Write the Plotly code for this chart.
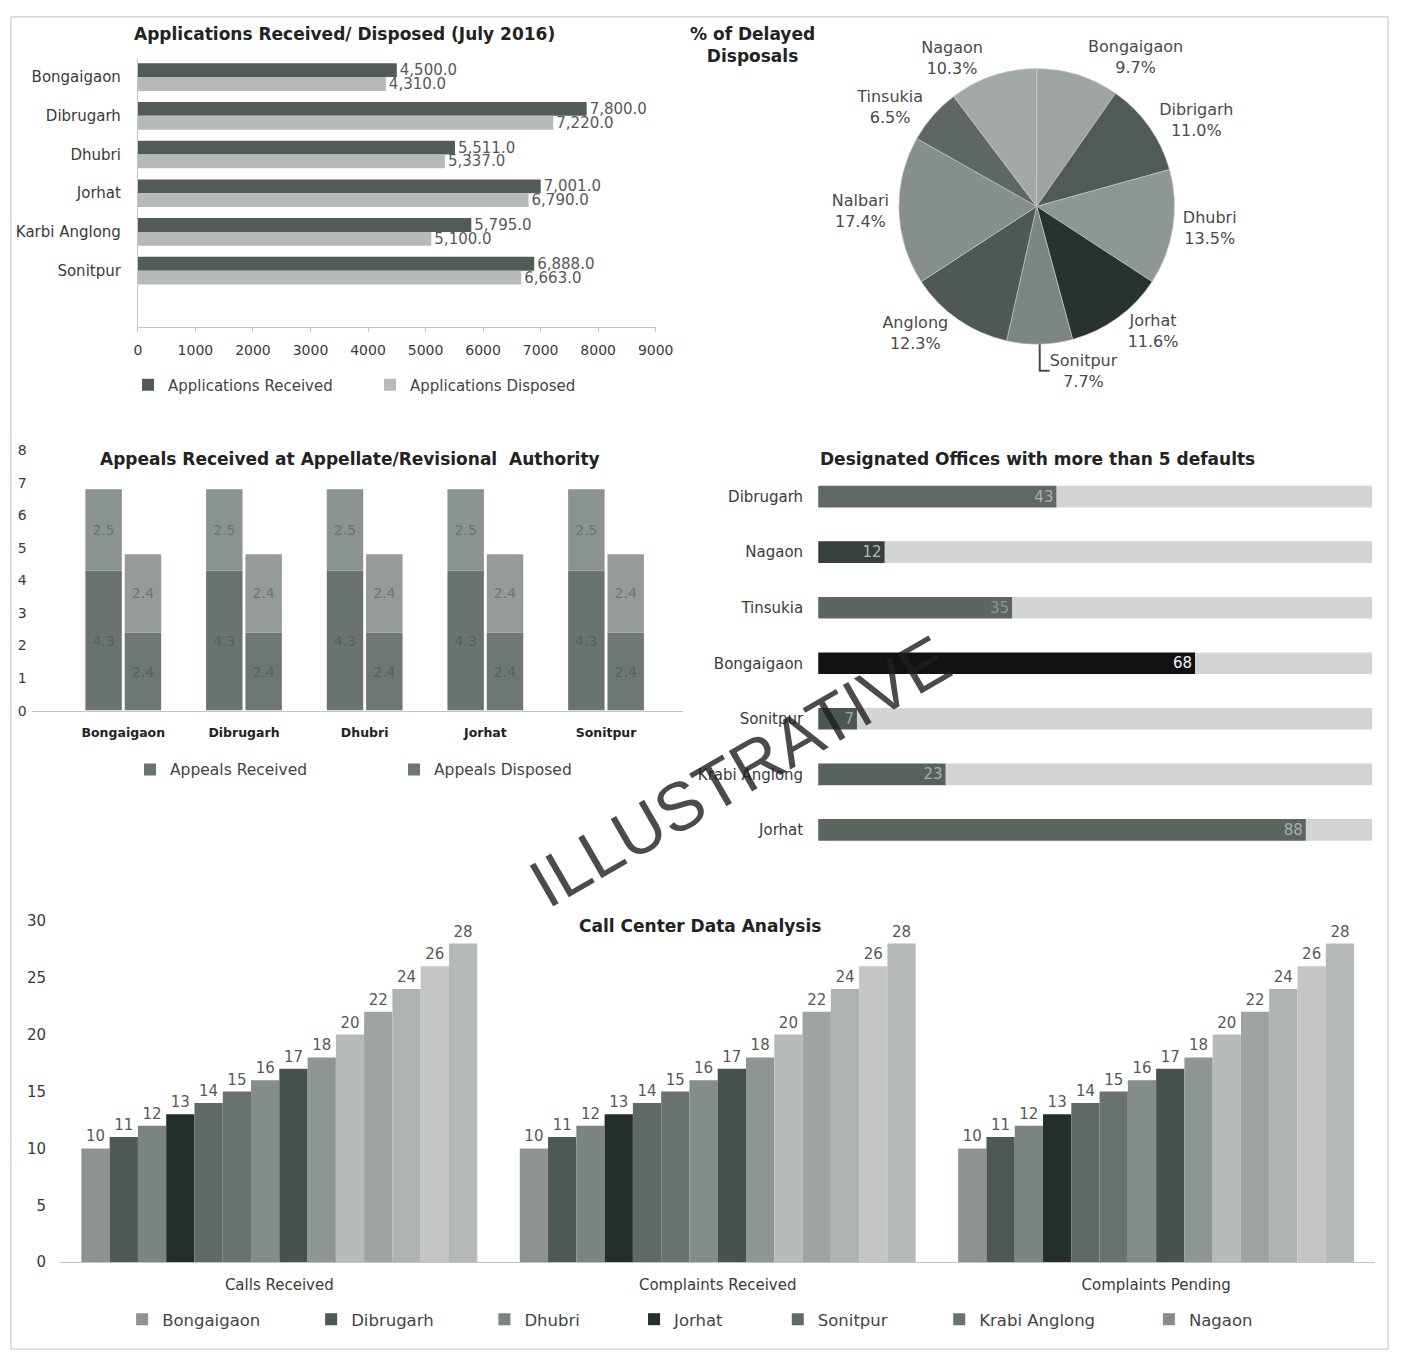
import plotly.graph_objects as go

W, H = 1414, 1364

def px_x(p):
    return p / W

def px_y(p):
    return 1 - p / H

# ---------------- data ----------------
# Panel 1: Applications Received / Disposed
app_districts = ["Bongaigaon", "Dibrugarh", "Dhubri", "Jorhat", "Karbi Anglong", "Sonitpur"]
app_received = [4500, 7800, 5511, 7001, 5795, 6888]
app_disposed = [4310, 7220, 5337, 6790, 5100, 6663]
app_ticks = [0, 1000, 2000, 3000, 4000, 5000, 6000, 7000, 8000, 9000]

# Panel 2: % of delayed disposals
delay_labels = ["Bongaigaon", "Dibrigarh", "Dhubri", "Jorhat", "Sonitpur",
                "Anglong", "Nalbari", "Tinsukia", "Nagaon"]
delay_pct = [9.7, 11.0, 13.5, 11.6, 7.7, 12.3, 17.4, 6.5, 10.3]

# Panel 3: Appeals
appeal_districts = ["Bongaigaon", "Dibrugarh", "Dhubri", "Jorhat", "Sonitpur"]
appeals_received_lower = [4.3, 4.3, 4.3, 4.3, 4.3]
appeals_received_upper = [2.5, 2.5, 2.5, 2.5, 2.5]
appeals_disposed_lower = [2.4, 2.4, 2.4, 2.4, 2.4]
appeals_disposed_upper = [2.4, 2.4, 2.4, 2.4, 2.4]
appeal_ticks = [0, 1, 2, 3, 4, 5, 6, 7, 8]

# Panel 4: Designated offices with more than 5 defaults
office_names = ["Dibrugarh", "Nagaon", "Tinsukia", "Bongaigaon", "Sonitpur", "Krabi Anglong", "Jorhat"]
office_defaults = [43, 12, 35, 68, 7, 23, 88]
OFFICE_SCALE_MAX = 100

# Panel 5: Call center
call_categories = ["Calls Received", "Complaints Received", "Complaints Pending"]
call_series = ["Bongaigaon", "Dibrugarh", "Dhubri", "Jorhat", "Sonitpur", "Krabi Anglong", "Nagaon",
               "Series 8", "Series 9", "Series 10", "Series 11", "Series 12", "Series 13", "Series 14"]
calls_received = [10, 11, 12, 13, 14, 15, 16, 17, 18, 20, 22, 24, 26, 28]
complaints_received = [10, 11, 12, 13, 14, 15, 16, 17, 18, 20, 22, 24, 26, 28]
complaints_pending = [10, 11, 12, 13, 14, 15, 16, 17, 18, 20, 22, 24, 26, 28]
call_ticks = [0, 5, 10, 15, 20, 25, 30]

# ---------------- styles ----------------
FONT = "DejaVu Sans"
TXT = "#3a3a3a"
DATA_TXT = "#555a57"

fig = go.Figure()

# ---- Panel 1 ----
bw1 = 0.357
fig.add_trace(go.Bar(
    y=app_districts, x=app_received, orientation="h", name="Applications Received",
    marker=dict(color="#525c57", line=dict(width=0)), width=bw1, offset=-bw1,
    texttemplate="%{x:,.1f}", textposition="outside", constraintext="none",
    cliponaxis=False, textfont=dict(size=15, color=DATA_TXT, family=FONT),
    xaxis="x", yaxis="y", legend="legend"))
fig.add_trace(go.Bar(
    y=app_districts, x=app_disposed, orientation="h", name="Applications Disposed",
    marker=dict(color="#b6bab8", line=dict(width=0)), width=bw1, offset=0,
    texttemplate="%{x:,.1f}", textposition="outside", constraintext="none",
    cliponaxis=False, textfont=dict(size=15, color=DATA_TXT, family=FONT),
    xaxis="x", yaxis="y", legend="legend"))

# ---- Panel 2: pie ----
pie_colors = ["#9ea4a0", "#505b55", "#8f9792", "#29332e", "#7d8581",
              "#4e5953", "#878f8a", "#5e6762", "#a3a9a5"]
fig.add_trace(go.Pie(
    labels=delay_labels, values=delay_pct, sort=False, direction="clockwise", rotation=0,
    marker=dict(colors=pie_colors, line=dict(color="#c9ccca", width=0.6)),
    textposition="outside", texttemplate="%{label}<br>%{value:.1f}%",
    textfont=dict(size=16, color="#4a4a4a", family=FONT),
    showlegend=False, hoverinfo="label+value",
    domain=dict(x=[px_x(909), px_x(1189)], y=[px_y(340), px_y(60)])))

# ---- Panel 3: appeals ----
bw3 = 0.302
gap3 = 0.012
fig.add_trace(go.Bar(
    x=appeal_districts, y=appeals_received_lower, name="Appeals Received", legendgroup="ar",
    marker=dict(color="#69746e", line=dict(width=0)), width=bw3, offset=-bw3 - gap3,
    texttemplate="%{y:.1f}", textposition="inside", insidetextanchor="middle", constraintext="none",
    textfont=dict(size=14, color="#56605a", family=FONT),
    xaxis="x2", yaxis="y2", legend="legend2"))
fig.add_trace(go.Bar(
    x=appeal_districts, y=appeals_received_upper, base=appeals_received_lower,
    name="Appeals Received", legendgroup="ar", showlegend=False,
    marker=dict(color="#8b938e", line=dict(width=0)), width=bw3, offset=-bw3 - gap3,
    texttemplate="%{y:.1f}", textposition="inside", insidetextanchor="middle", constraintext="none",
    textfont=dict(size=14, color="#6b746f", family=FONT),
    xaxis="x2", yaxis="y2", legend="legend2"))
fig.add_trace(go.Bar(
    x=appeal_districts, y=appeals_disposed_lower, name="Appeals Disposed", legendgroup="ad",
    marker=dict(color="#6e7872", line=dict(width=0)), width=bw3, offset=gap3,
    texttemplate="%{y:.1f}", textposition="inside", insidetextanchor="middle", constraintext="none",
    textfont=dict(size=14, color="#58625c", family=FONT),
    xaxis="x2", yaxis="y2", legend="legend2"))
fig.add_trace(go.Bar(
    x=appeal_districts, y=appeals_disposed_upper, base=appeals_disposed_lower,
    name="Appeals Disposed", legendgroup="ad", showlegend=False,
    marker=dict(color="#959c98", line=dict(width=0)), width=bw3, offset=gap3,
    texttemplate="%{y:.1f}", textposition="inside", insidetextanchor="middle", constraintext="none",
    textfont=dict(size=14, color="#6e7772", family=FONT),
    xaxis="x2", yaxis="y2", legend="legend2"))

# ---- Panel 4: designated offices ----
bw4 = 0.39
office_remaining = [OFFICE_SCALE_MAX - v for v in office_defaults]
fig.add_trace(go.Bar(
    y=office_names, x=office_remaining, base=office_defaults, orientation="h",
    name="Remaining", showlegend=False, hoverinfo="skip",
    marker=dict(color="#d2d5d3", line=dict(width=0)), width=bw4, offset=-bw4 / 2,
    xaxis="x3", yaxis="y3"))
fig.add_trace(go.Bar(
    y=office_names, x=office_defaults, orientation="h", name="Defaults", showlegend=False,
    marker=dict(color=["#5e6963", "#36413b", "#5b6660", "#121212", "#4b5751", "#57625c", "#5b665f"],
                line=dict(width=0)),
    width=bw4, offset=-bw4 / 2,
    texttemplate="%{x}", textposition="inside", insidetextanchor="end", constraintext="none",
    textangle=0,
    textfont=dict(size=15, family=FONT,
                  color=["#a7aeaa", "#b4bab7", "#8d9590", "#f2f2f2", "#9aa19d", "#a9b0ac", "#a9b0ac"]),
    xaxis="x3", yaxis="y3"))

# ---- Panel 5: call center ----
call_colors = ["#8d948f", "#4d5953", "#7b847f", "#233029", "#5f6a64", "#6a746e", "#858d88",
               "#46524c", "#8f9792", "#b8bcb9", "#9ea5a0", "#aeb3b0", "#c3c6c4", "#b5bab7"]
call_legend_names = ["legend3", "legend4", "legend5", "legend6", "legend7", "legend8", "legend9"]
call_legend_text_x = [160, 352, 528, 680, 826, 990, 1203]
n_series = len(call_series)
bw5 = 0.0645
start5 = -bw5 * n_series / 2
for i, name in enumerate(call_series):
    vals = [calls_received[i], complaints_received[i], complaints_pending[i]]
    in_legend = i < len(call_legend_names)
    fig.add_trace(go.Bar(
        x=call_categories, y=vals, name=name, showlegend=in_legend,
        marker=dict(color=call_colors[i], line=dict(width=0)),
        width=bw5, offset=start5 + i * bw5,
        texttemplate="%{y}", textposition="outside", constraintext="none", cliponaxis=False,
        textfont=dict(size=15, color=DATA_TXT, family=FONT),
        xaxis="x4", yaxis="y4",
        legend=call_legend_names[i] if in_legend else "legend3"))

# ---------------- layout ----------------
def axfont(size):
    return dict(family=FONT, size=size, color=TXT)

legend_base = dict(orientation="h", xanchor="left", yanchor="middle", itemwidth=30,
                   bgcolor="rgba(0,0,0,0)")

fig.update_layout(
    width=W, height=H, margin=dict(l=0, r=0, t=0, b=0),
    paper_bgcolor="white", plot_bgcolor="rgba(0,0,0,0)",
    barmode="overlay", font=dict(family=FONT, color=TXT),
    xaxis=dict(domain=[px_x(136), px_x(662)], range=[0, 9000], tickvals=app_ticks,
               showline=True, linecolor="#c4c4c4", ticks="outside", ticklen=4, tickcolor="#c4c4c4",
               ticklabelstandoff=6, anchor="y", showgrid=False, zeroline=False, tickfont=axfont(14)),
    yaxis=dict(domain=[px_y(322), px_y(49.4)], type="category", categoryarray=app_districts,
               range=[6.45, -0.5], showline=True, linecolor="#c4c4c4", ticks="",
               ticklabelstandoff=13, anchor="x", showgrid=False, zeroline=False, tickfont=axfont(15)),
    xaxis2=dict(domain=[px_x(28), px_x(690)], type="category", categoryarray=appeal_districts,
                range=[-0.76, 4.64], showline=True, linecolor="#c4c4c4", ticks="",
                ticklabelstandoff=10, anchor="y2", showgrid=False, zeroline=False,
                tickfont=dict(family=FONT, size=12.5, color="#222", weight="bold")),
    yaxis2=dict(domain=[px_y(711), px_y(447)], range=[0, 8], tickvals=appeal_ticks,
                showline=False, ticks="", anchor="x2", ticklabelstandoff=4,
                showgrid=False, zeroline=False, tickfont=axfont(14)),
    xaxis3=dict(domain=[px_x(827), px_x(1390)], range=[0, OFFICE_SCALE_MAX], visible=False, anchor="y3"),
    yaxis3=dict(domain=[px_y(860), px_y(466)], type="category", categoryarray=office_names,
                range=[6.5, -0.5], showline=False, ticks="", ticklabelstandoff=14, anchor="x3",
                showgrid=False, zeroline=False, tickfont=axfont(15)),
    xaxis4=dict(domain=[px_x(57), px_x(1393)], type="category", categoryarray=call_categories,
                range=[-0.5, 2.5], showline=True, linecolor="#c4c4c4", ticks="",
                ticklabelstandoff=9, anchor="y4", showgrid=False, zeroline=False, tickfont=axfont(15)),
    yaxis4=dict(domain=[px_y(1270), px_y(924)], range=[0, 30], tickvals=call_ticks,
                showline=False, ticks="", ticklabelstandoff=13, anchor="x4",
                showgrid=False, zeroline=False, tickfont=axfont(15)),
    legend=dict(x=px_x(126), y=px_y(381), entrywidth=197, entrywidthmode="pixels",
                font=dict(family=FONT, size=15, color="#444"), **legend_base),
    legend2=dict(x=px_x(128), y=px_y(771), entrywidth=219, entrywidthmode="pixels",
                 font=dict(family=FONT, size=15.5, color="#444"), **legend_base),
)
for lname, tx in zip(call_legend_names, call_legend_text_x):
    fig.update_layout({lname: dict(x=px_x(tx - 40), y=px_y(1328),
                                   font=dict(family=FONT, size=16.5, color="#444"), **legend_base)})

title_font = dict(family=FONT, size=17, color="#222", weight="bold")
annotations = [
    dict(text="Applications Received/ Disposed (July 2016)", x=px_x(346), y=px_y(25)),
    dict(text="% of Delayed<br>Disposals", x=px_x(760), y=px_y(36)),
    dict(text="Appeals Received at Appellate/Revisional  Authority", x=px_x(351), y=px_y(456)),
    dict(text="Designated Offices with more than 5 defaults", x=px_x(1050), y=px_y(456)),
    dict(text="Call Center Data Analysis", x=px_x(707), y=px_y(929)),
]
for a in annotations:
    fig.add_annotation(xref="paper", yref="paper", xanchor="center", yanchor="middle",
                       showarrow=False, font=title_font, **a)

fig.add_annotation(text="ILLUSTRATIVE", xref="paper", yref="paper", x=px_x(747), y=px_y(772),
                   xanchor="center", yanchor="middle", showarrow=False, textangle=-30,
                   font=dict(family="Liberation Sans", size=68, color="rgba(30,30,30,0.8)"))

fig.add_shape(type="rect", xref="paper", yref="paper", x0=px_x(7), x1=px_x(1406),
              y0=px_y(1358), y1=px_y(8), line=dict(color="#c0c0c0", width=1), layer="below")

fig.write_html("out.html")
